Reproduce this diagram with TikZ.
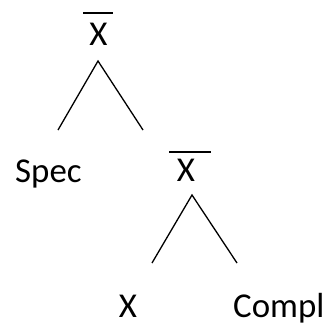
\documentclass[tikz,border=0pt]{standalone}
\usepackage{fontspec}
\setmainfont{Carlito}
\begin{document}
\begin{tikzpicture}[x=1bp,y=-1bp,
  lbl/.style={inner sep=0pt, anchor=base, font=\fontsize{35}{42}\selectfont},
  branch/.style={line width=1.3bp, black},
  bar/.style={line width=1.3bp, black}]
\useasboundingbox (0,0) rectangle (330,327);
% top X-bar
\node[lbl] (top) at (98.5,45) {X};
\coordinate (topbarL) at (83,13);
\coordinate (topbarR) at (113,13);
\draw[bar] (topbarL) -- (topbarR);
\coordinate (apex1) at (98,61);
\coordinate (l1) at (58,130);
\coordinate (r1) at (143,130);
\draw[branch] (l1) -- (apex1) -- (r1);
% second level
\node[lbl, anchor=base west] (spec) at (15,182) {Spec};
\node[lbl] (mid) at (186,181) {X};
\coordinate (midbarL) at (169,152);
\coordinate (midbarR) at (211,152);
\draw[bar] (midbarL) -- (midbarR);
\coordinate (apex2) at (192,195);
\coordinate (l2) at (152,263);
\coordinate (r2) at (237,263);
\draw[branch] (l2) -- (apex2) -- (r2);
% bottom
\node[lbl] (head) at (128,317) {X};
\node[lbl, anchor=base west] (compl) at (233,317) {Compl};
\end{tikzpicture}
\end{document}
